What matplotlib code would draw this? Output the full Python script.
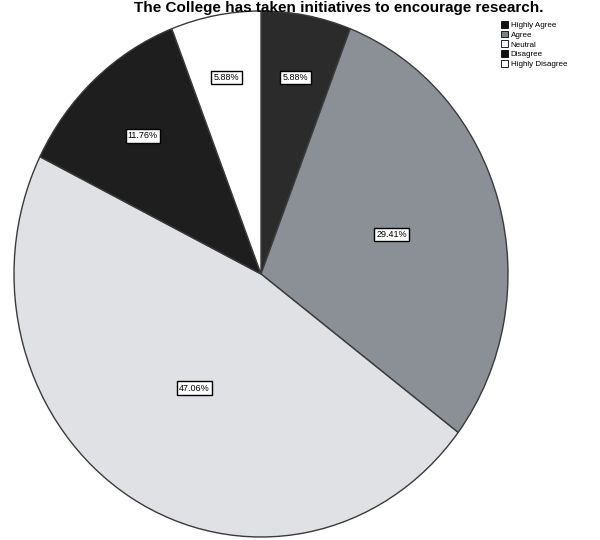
import numpy as np
import matplotlib
matplotlib.use("Agg")
import matplotlib.pyplot as plt

# Survey responses (percent of respondents)
labels = ["Highly Agree", "Agree", "Neutral", "Disagree", "Highly Disagree"]
shares = [5.88, 29.41, 47.06, 11.76, 5.88]
pct_text = ["5.88%", "29.41%", "47.06%", "11.76%", "5.88%"]
colors = ["#2b2b2b", "#8b9097", "#dfe1e4", "#1e1e1e", "#ffffff"]
legend_colors = ["#111111", "#7d8288", "#f4f4f4", "#111111", "#ffffff"]

# how far out each label box sits (fraction of radius)
label_r = [0.76, 0.55, 0.51, 0.71, 0.76]

plt.rcParams["font.family"] = ["Liberation Sans", "DejaVu Sans"]

fig = plt.figure(figsize=(6, 5.4), dpi=100)
ax = fig.add_axes([14 / 600, 3 / 540, 494 / 600, 526 / 540])

wedges, _ = ax.pie(shares, colors=colors, startangle=90, counterclock=False,
                   wedgeprops=dict(edgecolor="#3a3a3a", linewidth=1.0))
ax.set_aspect("auto")
ax.set_xlim(-1, 1)
ax.set_ylim(-1, 1)
ax.axis("off")

for w, txt, r in zip(wedges, pct_text, label_r):
    mid = np.deg2rad((w.theta1 + w.theta2) / 2)
    ax.text(r * np.cos(mid), r * np.sin(mid), txt, ha="center", va="center",
            fontsize=6.5, color="black",
            bbox=dict(boxstyle="square,pad=0.25", fc="white", ec="black", lw=1.0))

fig.text(0.565, 1 - 1 / 540, "The College has taken initiatives to encourage research.",
         ha="center", va="top", fontsize=11, fontweight="bold", zorder=5)

handles = [plt.Rectangle((0, 0), 1, 1, fc=c, ec="black", lw=0.6) for c in legend_colors]
fig.legend(handles, labels, loc="upper left", bbox_to_anchor=(501 / 600, 1 - 21 / 540),
           frameon=False, fontsize=5.8, handlelength=0.9, handleheight=0.9,
           labelspacing=0.2, handletextpad=0.3, borderpad=0, borderaxespad=0)

fig.savefig("out.png", dpi=100)
